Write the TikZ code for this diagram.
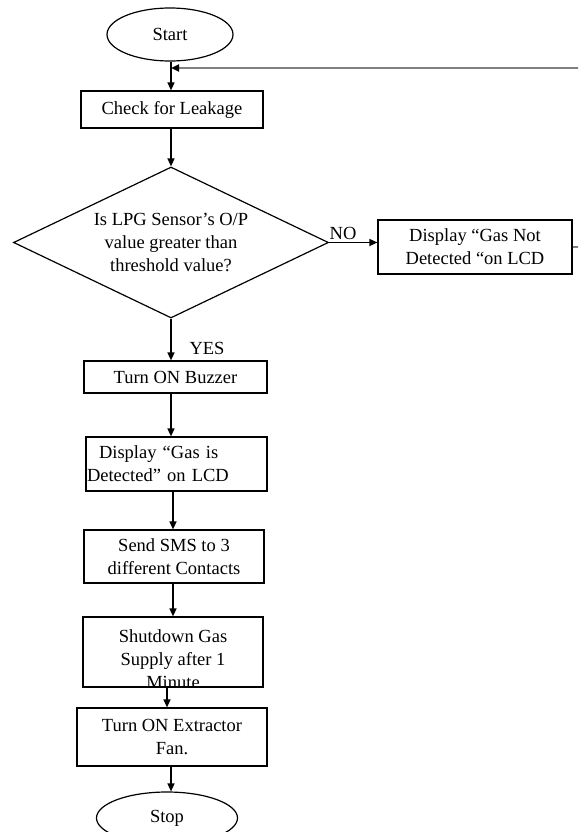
\documentclass[tikz,border=0pt]{standalone}
\usepackage{fontspec}
\setmainfont{Liberation Serif}
\usetikzlibrary{shapes.geometric,arrows.meta}
\tikzset{
	flowbox/.style={draw,line width=1.2pt,rectangle,inner sep=1pt,align=center},
	term/.style={draw,line width=1.2pt,ellipse,inner sep=0pt},
	decide/.style={draw,line width=1.2pt,diamond,aspect=2.09,inner sep=0pt,align=center},
	flow/.style={-{Triangle[length=8pt,width=7pt]},line width=1.4pt},
	loopback/.style={-{Triangle[length=8pt,width=7pt,color=black]},draw=gray,line width=2pt}
}
\begin{document}
\begin{tikzpicture}[x=1pt,y=-1pt,font=\fontsize{18.5}{23}\selectfont]
\def	\bh	{54pt};
\clip (0,0) rectangle (578,832);
\node[term,minimum width=126pt,minimum height=53pt] (start) at (170,34.5) {Start};
\node[flowbox,minimum width=182pt,minimum height=37pt] (check) at (172,109.5) {Check for Leakage};
\node[decide,minimum width=315pt,minimum height=151pt] (dec) at (171,242.5) {Is LPG Sensor’s O/P\\value greater than\\threshold value?};
\node[flowbox,minimum width=194pt,minimum height=\bh] (gnd) at (475,247) {Display “Gas Not\\Detected “on LCD};
\node (no) at (343,233) {NO};
\node (yes) at (207,348) {YES};
\node[flowbox,minimum width=183pt,minimum height=32pt] (buzz) at (175.5,377) {Turn ON Buzzer};
\node[flowbox,text width=179pt,align=left,minimum height=\bh] (det) at (176.5,464) {\hspace*{12pt}Display “Gas is\\Detected” on LCD};
\node[flowbox,minimum width=180pt,minimum height=53pt] (sms) at (174,556.5) {Send SMS to 3\\different Contacts};
\node[flowbox,minimum width=180pt,minimum height=70pt] (shut) at (173,652) {};
\begin{scope}
\clip (shut.south west) rectangle (shut.north east);
\node[align=center] (shuttext) at (173,659) {Shutdown Gas\\Supply after 1\\Minute};
\end{scope}
\node[flowbox,minimum width=190pt,minimum height=58pt] (fan) at (172,737) {Turn ON Extractor\\Fan.};
\node[term,minimum width=141pt,minimum height=52pt] (stop) at (167,818) {Stop};
\coordinate (fb) at (171,68);
\coordinate (spine) at (171,0);
\begin{scope}[flow]
\draw (start.south -| spine) -- (spine |- check.north);
\draw (check.south -| spine) -- (spine |- dec.north);
\draw (dec.east) -- (dec.east -| gnd.west);
\draw (dec.south) -- (dec.south |- buzz.north);
\draw (buzz.south -| spine) -- (spine |- det.north);
\draw ([xshift=2pt]det.south -| spine) -- ([xshift=2pt]spine |- sms.north);
\draw ([xshift=2pt]sms.south -| spine) -- ([xshift=2pt]spine |- shut.north);
\draw ([xshift=-4pt]shut.south -| spine) -- ([xshift=-4pt]spine |- fan.north);
\draw (fan.south -| spine) -- (spine |- stop.north);
\end{scope}
\draw[loopback] (gnd.east) -- ++(40,0) |- (fb);
\end{tikzpicture}
\end{document}
